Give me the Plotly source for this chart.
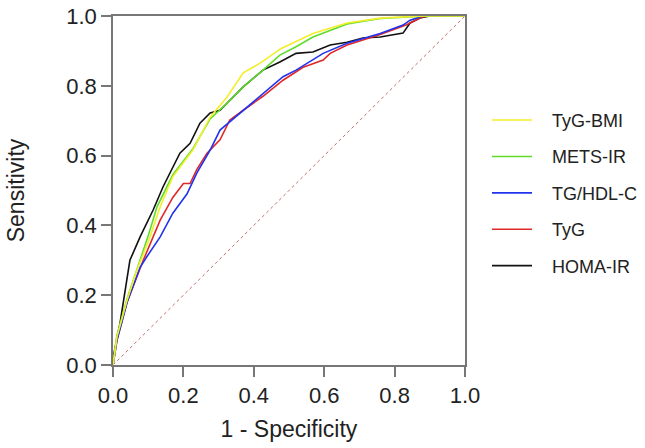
import plotly.graph_objects as go

names = ["TyG-BMI", "METS-IR", "TG/HDL-C", "TyG", "HOMA-IR"]
colors = ["#f2ef2a", "#5fdc2c", "#2233ee", "#e02828", "#111111"]

tygbmi_x = [0, 0.011, 0.04, 0.068, 0.105, 0.134, 0.17, 0.227, 0.276, 0.324, 0.37, 0.418, 0.478, 0.568, 0.665, 0.759, 0.88, 1.0]
tygbmi_y = [0, 0.08, 0.186, 0.272, 0.367, 0.453, 0.54, 0.616, 0.71, 0.768, 0.837, 0.865, 0.907, 0.95, 0.98, 0.994, 1.0, 1.0]

metsir_x = [0, 0.011, 0.04, 0.068, 0.1, 0.125, 0.17, 0.227, 0.276, 0.324, 0.37, 0.426, 0.474, 0.52, 0.568, 0.665, 0.759, 0.89, 1.0]
metsir_y = [0, 0.085, 0.19, 0.275, 0.37, 0.453, 0.545, 0.62, 0.705, 0.75, 0.797, 0.845, 0.888, 0.912, 0.94, 0.977, 0.993, 1.0, 1.0]

tghdl_x = [0, 0.011, 0.04, 0.077, 0.096, 0.134, 0.17, 0.21, 0.238, 0.276, 0.304, 0.37, 0.426, 0.483, 0.52, 0.568, 0.597, 0.665, 0.759, 0.824, 0.844, 0.88, 1.0]
tghdl_y = [0, 0.07, 0.18, 0.28, 0.31, 0.367, 0.435, 0.49, 0.55, 0.616, 0.673, 0.73, 0.779, 0.826, 0.845, 0.874, 0.893, 0.922, 0.95, 0.974, 0.988, 1.0, 1.0]

tyg_x = [0, 0.011, 0.04, 0.086, 0.134, 0.17, 0.2, 0.219, 0.238, 0.267, 0.304, 0.332, 0.37, 0.426, 0.483, 0.54, 0.56, 0.597, 0.617, 0.665, 0.759, 0.834, 0.872, 0.89, 1.0]
tyg_y = [0, 0.07, 0.18, 0.30, 0.415, 0.48, 0.52, 0.52, 0.56, 0.607, 0.645, 0.702, 0.73, 0.77, 0.816, 0.853, 0.86, 0.874, 0.893, 0.917, 0.947, 0.975, 0.994, 1.0, 1.0]

homa_x = [0, 0.001, 0.02, 0.034, 0.048, 0.077, 0.096, 0.114, 0.142, 0.17, 0.19, 0.219, 0.247, 0.276, 0.304, 0.37, 0.426, 0.474, 0.52, 0.568, 0.617, 0.665, 0.71, 0.759, 0.824, 0.844, 0.872, 0.9, 1.0]
homa_y = [0, 0.024, 0.12, 0.215, 0.30, 0.367, 0.407, 0.444, 0.51, 0.567, 0.607, 0.635, 0.693, 0.722, 0.73, 0.797, 0.845, 0.868, 0.893, 0.897, 0.917, 0.925, 0.937, 0.94, 0.951, 0.98, 0.994, 1.0, 1.0]

ref_x = [0, 1]
ref_y = [0, 1]

tick_vals = [0, 0.2, 0.4, 0.6, 0.8, 1.0]
tick_text = ["0.0", "0.2", "0.4", "0.6", "0.8", "1.0"]

series = [(tygbmi_x, tygbmi_y), (metsir_x, metsir_y), (tghdl_x, tghdl_y), (tyg_x, tyg_y), (homa_x, homa_y)]

fig = go.Figure()
fig.add_trace(go.Scatter(x=ref_x, y=ref_y, mode="lines", showlegend=False,
                         line=dict(color="#c86a6a", width=1, dash="dot")))
# draw in reverse so yellow is on top; legend order kept by legendrank
pad = "\u00a0\u00a0\u00a0"
for i in reversed(range(len(names))):
    xs, ys = series[i]
    fig.add_trace(go.Scatter(x=xs, y=ys, mode="lines", name=pad + names[i],
                             legendgroup=names[i], legendrank=i + 1,
                             line=dict(color=colors[i], width=1.6)))

font = "Liberation Sans, Arial, Helvetica, sans-serif"
axis_common = dict(range=[0, 1], tickvals=tick_vals, ticktext=tick_text, automargin=False,
                   showgrid=False, zeroline=False, showline=True, linecolor="#777777",
                   linewidth=1.5, mirror=True, ticks="outside", ticklen=10, tickwidth=1.5,
                   tickcolor="#777777", ticklabeloverflow="allow",
                   tickfont=dict(size=22, color="#222222", family=font))

fig.update_layout(
    width=645, height=448,
    margin=dict(l=113, r=180, t=16, b=83, autoexpand=False),
    paper_bgcolor="white", plot_bgcolor="white",
    font=dict(family=font, color="#222222"),
    xaxis=dict(**axis_common, title=dict(text="1 - Specificity", font=dict(size=23), standoff=14)),
    yaxis=dict(**axis_common, title=dict(text="Sensitivity", font=dict(size=23), standoff=35)),
    legend=dict(x=1.0625, y=0.754, xanchor="left", yanchor="top", tracegroupgap=10,
                font=dict(size=18, color="#222222"), bgcolor="rgba(0,0,0,0)", itemwidth=40),
)

# remove the page's default 8px body margin so the figure fills the window exactly
fig.write_html("out.html", config={"displayModeBar": False},
               post_script="document.body.style.margin='0';document.body.style.overflow='hidden';")
